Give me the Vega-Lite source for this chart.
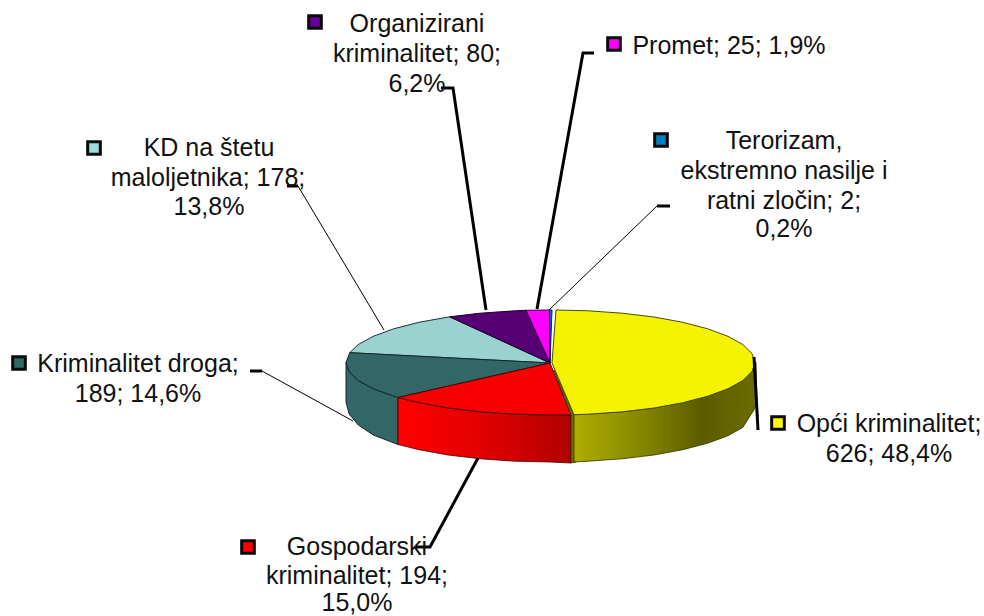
{"$schema":"https://vega.github.io/schema/vega-lite/v6.json","width":984,"height":616,"padding":0,"autosize":"none","background":"white","config":{"view":{"stroke":null}},
"datasets":{
"faces":[
{"part":"Lt","seq":0,"x":550,"y":363},{"part":"Lt","seq":1,"x":349.7,"y":352.7},{"part":"Lt","seq":2,"x":358.3,"y":344.5},{"part":"Lt","seq":3,"x":373.3,"y":336.3},{"part":"Lt","seq":4,"x":393.7,"y":328.8},{"part":"Lt","seq":5,"x":418.9,"y":322.3},{"part":"Lt","seq":6,"x":449.6,"y":316.8},{"part":"Lt","seq":7,"x":550,"y":363},
{"part":"Pt","seq":0,"x":550,"y":363},{"part":"Pt","seq":1,"x":449.6,"y":316.8},{"part":"Pt","seq":2,"x":480.2,"y":313.2},{"part":"Pt","seq":3,"x":514.6,"y":310.8},{"part":"Pt","seq":4,"x":526,"y":310.3},{"part":"Pt","seq":5,"x":550,"y":363},
{"part":"Mt","seq":0,"x":550,"y":363},{"part":"Mt","seq":1,"x":526,"y":310.3},{"part":"Mt","seq":2,"x":549.5,"y":310},{"part":"Mt","seq":3,"x":550,"y":363},
{"part":"Bt","seq":0,"x":550,"y":363},{"part":"Bt","seq":1,"x":549.5,"y":310},{"part":"Bt","seq":2,"x":552,"y":310},{"part":"Bt","seq":3,"x":550,"y":363},
{"part":"Ts","seq":0,"x":398,"y":397.5},{"part":"Ts","seq":1,"x":373.3,"y":388.8},{"part":"Ts","seq":2,"x":358.3,"y":380.5},{"part":"Ts","seq":3,"x":349.1,"y":371.6},{"part":"Ts","seq":4,"x":346,"y":362.5},{"part":"Ts","seq":5,"x":346,"y":402},{"part":"Ts","seq":6,"x":349.1,"y":414},{"part":"Ts","seq":7,"x":358.3,"y":425},{"part":"Ts","seq":8,"x":373.3,"y":435},{"part":"Ts","seq":9,"x":398,"y":444.5},{"part":"Ts","seq":10,"x":398,"y":397.5},
{"part":"Tt","seq":0,"x":550,"y":363},{"part":"Tt","seq":1,"x":398,"y":397.5},{"part":"Tt","seq":2,"x":373.3,"y":388.8},{"part":"Tt","seq":3,"x":358.3,"y":380.5},{"part":"Tt","seq":4,"x":349.1,"y":371.6},{"part":"Tt","seq":5,"x":346,"y":362.5},{"part":"Tt","seq":6,"x":349.7,"y":352.7},{"part":"Tt","seq":7,"x":550,"y":363},
{"part":"Rs","seq":0,"x":398,"y":397.5},{"part":"Rs","seq":1,"x":418.9,"y":402.7},{"part":"Rs","seq":2,"x":448,"y":408},{"part":"Rs","seq":3,"x":480.2,"y":411.8},{"part":"Rs","seq":4,"x":514.6,"y":414.2},{"part":"Rs","seq":5,"x":550,"y":415},{"part":"Rs","seq":6,"x":571,"y":415},{"part":"Rs","seq":7,"x":571,"y":463},{"part":"Rs","seq":8,"x":550,"y":462},{"part":"Rs","seq":9,"x":514.6,"y":461.2},{"part":"Rs","seq":10,"x":480.2,"y":458.8},{"part":"Rs","seq":11,"x":448,"y":455},{"part":"Rs","seq":12,"x":418.9,"y":449.7},{"part":"Rs","seq":13,"x":398,"y":444.5},{"part":"Rs","seq":14,"x":398,"y":397.5},
{"part":"Rt","seq":0,"x":550,"y":363},{"part":"Rt","seq":1,"x":571,"y":415},{"part":"Rt","seq":2,"x":550,"y":415},{"part":"Rt","seq":3,"x":514.6,"y":414.2},{"part":"Rt","seq":4,"x":480.2,"y":411.8},{"part":"Rt","seq":5,"x":448,"y":408},{"part":"Rt","seq":6,"x":418.9,"y":402.7},{"part":"Rt","seq":7,"x":398,"y":397.5},{"part":"Rt","seq":8,"x":550,"y":363},
{"part":"Yc","seq":0,"x":554,"y":370},{"part":"Yc","seq":1,"x":574,"y":415},{"part":"Yc","seq":2,"x":576,"y":462},{"part":"Yc","seq":3,"x":571,"y":463},{"part":"Yc","seq":4,"x":571,"y":415},{"part":"Yc","seq":5,"x":554,"y":370},
{"part":"Ys","seq":0,"x":574,"y":414.7},{"part":"Ys","seq":1,"x":588.1,"y":414.2},{"part":"Ys","seq":2,"x":622.1,"y":411.8},{"part":"Ys","seq":3,"x":654,"y":408},{"part":"Ys","seq":4,"x":682.8,"y":402.7},{"part":"Ys","seq":5,"x":707.7,"y":396.2},{"part":"Ys","seq":6,"x":727.9,"y":388.8},{"part":"Ys","seq":7,"x":742.8,"y":380.5},{"part":"Ys","seq":8,"x":751.9,"y":371.6},{"part":"Ys","seq":9,"x":756,"y":362.5},{"part":"Ys","seq":10,"x":757,"y":405},{"part":"Ys","seq":11,"x":742.8,"y":427.5},{"part":"Ys","seq":12,"x":727.9,"y":435.8},{"part":"Ys","seq":13,"x":707.7,"y":443.2},{"part":"Ys","seq":14,"x":682.8,"y":449.7},{"part":"Ys","seq":15,"x":654,"y":455},{"part":"Ys","seq":16,"x":622.1,"y":458.8},{"part":"Ys","seq":17,"x":588.1,"y":461.2},{"part":"Ys","seq":18,"x":574,"y":462},{"part":"Ys","seq":19,"x":574,"y":414.7},
{"part":"Yt","seq":0,"x":552,"y":363},{"part":"Yt","seq":1,"x":556,"y":310},{"part":"Yt","seq":2,"x":588.1,"y":310.8},{"part":"Yt","seq":3,"x":622.1,"y":313.2},{"part":"Yt","seq":4,"x":654,"y":317},{"part":"Yt","seq":5,"x":682.8,"y":322.3},{"part":"Yt","seq":6,"x":707.7,"y":328.8},{"part":"Yt","seq":7,"x":727.9,"y":336.3},{"part":"Yt","seq":8,"x":742.8,"y":344.5},{"part":"Yt","seq":9,"x":751.9,"y":353.4},{"part":"Yt","seq":10,"x":755,"y":362.5},{"part":"Yt","seq":11,"x":751.9,"y":371.6},{"part":"Yt","seq":12,"x":742.8,"y":380.5},{"part":"Yt","seq":13,"x":727.9,"y":388.8},{"part":"Yt","seq":14,"x":707.7,"y":396.2},{"part":"Yt","seq":15,"x":682.8,"y":402.7},{"part":"Yt","seq":16,"x":654,"y":408},{"part":"Yt","seq":17,"x":622.1,"y":411.8},{"part":"Yt","seq":18,"x":588.1,"y":414.2},{"part":"Yt","seq":19,"x":574,"y":414.7},{"part":"Yt","seq":20,"x":552,"y":363}
],
"leaders":[
{"id":"opci","w":"thick","seq":0,"x":754,"y":357},{"id":"opci","w":"thick","seq":1,"x":758,"y":430},
{"id":"gosp","w":"thick","seq":0,"x":478,"y":458},{"id":"gosp","w":"thick","seq":1,"x":430,"y":547},{"id":"gosp","w":"thick","seq":2,"x":416,"y":547},
{"id":"org","w":"thick","seq":0,"x":486,"y":310},{"id":"org","w":"thick","seq":1,"x":453,"y":88},{"id":"org","w":"thick","seq":2,"x":441,"y":88},
{"id":"pro","w":"thick","seq":0,"x":537,"y":309},{"id":"pro","w":"thick","seq":1,"x":583,"y":53},{"id":"pro","w":"thick","seq":2,"x":594,"y":53},
{"id":"dro","w":"thick","seq":0,"x":250,"y":371},{"id":"dro","w":"thick","seq":1,"x":262,"y":371},
{"id":"kd","w":"thick","seq":0,"x":287,"y":186},{"id":"kd","w":"thick","seq":1,"x":298,"y":186},
{"id":"ter","w":"thick","seq":0,"x":657,"y":206},{"id":"ter","w":"thick","seq":1,"x":670,"y":206},
{"id":"dro2","w":"thin","seq":0,"x":262,"y":371},{"id":"dro2","w":"thin","seq":1,"x":353,"y":421},
{"id":"kd2","w":"thin","seq":0,"x":298,"y":186},{"id":"kd2","w":"thin","seq":1,"x":384,"y":330},
{"id":"ter2","w":"thin","seq":0,"x":657,"y":206},{"id":"ter2","w":"thin","seq":1,"x":549,"y":310}
],
"keys":[
{"category":"Opći kriminalitet","value":626,"share":48.4,"x":778,"y":423},
{"category":"Gospodarski kriminalitet","value":194,"share":15.0,"x":248,"y":547},
{"category":"Kriminalitet droga","value":189,"share":14.6,"x":19,"y":363},
{"category":"KD na štetu maloljetnika","value":178,"share":13.8,"x":94,"y":148},
{"category":"Organizirani kriminalitet","value":80,"share":6.2,"x":315,"y":22},
{"category":"Promet","value":25,"share":1.9,"x":614,"y":44},
{"category":"Terorizam, ekstremno nasilje i ratni zločin","value":2,"share":0.2,"x":661,"y":140}
],
"labels":[
{"t":"Organizirani","x":417,"y":24},{"t":"kriminalitet; 80;","x":417,"y":54},{"t":"6,2%","x":417,"y":84},
{"t":"Promet; 25; 1,9%","x":729,"y":46},
{"t":"Terorizam,","x":784,"y":141},{"t":"ekstremno nasilje i","x":784,"y":171},{"t":"ratni zločin; 2;","x":784,"y":201},{"t":"0,2%","x":784,"y":229},
{"t":"KD na štetu","x":209,"y":148},{"t":"maloljetnika; 178;","x":208,"y":178},{"t":"13,8%","x":209,"y":207},
{"t":"Kriminalitet droga;","x":138,"y":364},{"t":"189; 14,6%","x":138,"y":394},
{"t":"Opći kriminalitet;","x":889,"y":424},{"t":"626; 48,4%","x":889,"y":454},
{"t":"Gospodarski","x":357,"y":547},{"t":"kriminalitet; 194;","x":357,"y":576},{"t":"15,0%","x":357,"y":603}
]},
"data":{"name":"faces"},
"encoding":{
"x":{"field":"x","type":"quantitative","scale":{"domain":[0,984],"nice":false,"zero":false},"axis":null},
"y":{"field":"y","type":"quantitative","scale":{"domain":[616,0],"nice":false,"zero":false},"axis":null}},
"layer":[
{"transform":[{"filter":"datum.part=='Lt'"}],"mark":{"type":"line","fill":"#99d2cf","stroke":"#1a3333","strokeWidth":1},"encoding":{"order":{"field":"seq"}}},
{"transform":[{"filter":"datum.part=='Pt'"}],"mark":{"type":"line","fill":"#560076","stroke":"#1a0026","strokeWidth":1},"encoding":{"order":{"field":"seq"}}},
{"transform":[{"filter":"datum.part=='Mt'"}],"mark":{"type":"line","fill":"#ff00ff","stroke":"#330033","strokeWidth":1},"encoding":{"order":{"field":"seq"}}},
{"transform":[{"filter":"datum.part=='Bt'"}],"mark":{"type":"line","fill":"#0070c0","stroke":"#002040","strokeWidth":1},"encoding":{"order":{"field":"seq"}}},
{"transform":[{"filter":"datum.part=='Ts'"}],"mark":{"type":"line","fill":"#336666","stroke":"#102a2a","strokeWidth":1},"encoding":{"order":{"field":"seq"}}},
{"transform":[{"filter":"datum.part=='Tt'"}],"mark":{"type":"line","fill":"#336666","stroke":"#102a2a","strokeWidth":1},"encoding":{"order":{"field":"seq"}}},
{"transform":[{"filter":"datum.part=='Rs'"}],"mark":{"type":"line","stroke":"#4a0000","strokeWidth":0.8,"fill":{"gradient":"linear","x1":0,"y1":0,"x2":1,"y2":0,"stops":[{"offset":0,"color":"#ff0000"},{"offset":0.45,"color":"#e60000"},{"offset":1,"color":"#b00000"}]}},"encoding":{"order":{"field":"seq"}}},
{"transform":[{"filter":"datum.part=='Rt'"}],"mark":{"type":"line","fill":"#f60000","stroke":"#4a0000","strokeWidth":1},"encoding":{"order":{"field":"seq"}}},
{"transform":[{"filter":"datum.part=='Yc'"}],"mark":{"type":"line","fill":"#6e6e00","stroke":"#333300","strokeWidth":0.8},"encoding":{"order":{"field":"seq"}}},
{"transform":[{"filter":"datum.part=='Ys'"}],"mark":{"type":"line","stroke":"#333300","strokeWidth":0.8,"fill":{"gradient":"linear","x1":0,"y1":0,"x2":1,"y2":0,"stops":[{"offset":0,"color":"#adad00"},{"offset":0.3,"color":"#8e8e00"},{"offset":0.7,"color":"#5c5c00"},{"offset":1,"color":"#6c6c00"}]}},"encoding":{"order":{"field":"seq"}}},
{"transform":[{"filter":"datum.part=='Yt'"}],"mark":{"type":"line","fill":"#f4f400","stroke":"#4a4a00","strokeWidth":1},"encoding":{"order":{"field":"seq"}}},
{"data":{"name":"leaders"},"transform":[{"filter":"datum.w=='thick'"}],"mark":{"type":"line","stroke":"black","strokeWidth":3,"strokeJoin":"miter"},"encoding":{"detail":{"field":"id"},"order":{"field":"seq"}}},
{"data":{"name":"leaders"},"transform":[{"filter":"datum.w=='thin'"}],"mark":{"type":"line","stroke":"black","strokeWidth":1},"encoding":{"detail":{"field":"id"},"order":{"field":"seq"}}},
{"data":{"name":"keys"},"mark":{"type":"point","shape":"square","filled":true,"size":160,"stroke":"#0a0a0a","strokeWidth":3,"opacity":1},"encoding":{"fill":{"field":"category","type":"nominal","legend":null,"scale":{"domain":["Opći kriminalitet","Gospodarski kriminalitet","Kriminalitet droga","KD na štetu maloljetnika","Organizirani kriminalitet","Promet","Terorizam, ekstremno nasilje i ratni zločin"],"range":["#ffff00","#ff0000","#336666","#99dddd","#660099","#ff00ff","#0080c0"]}}}},
{"data":{"name":"labels"},"mark":{"type":"text","font":"Liberation Sans","fontSize":25,"align":"center","baseline":"middle","color":"#111111"},"encoding":{"text":{"field":"t"}}}
]}
